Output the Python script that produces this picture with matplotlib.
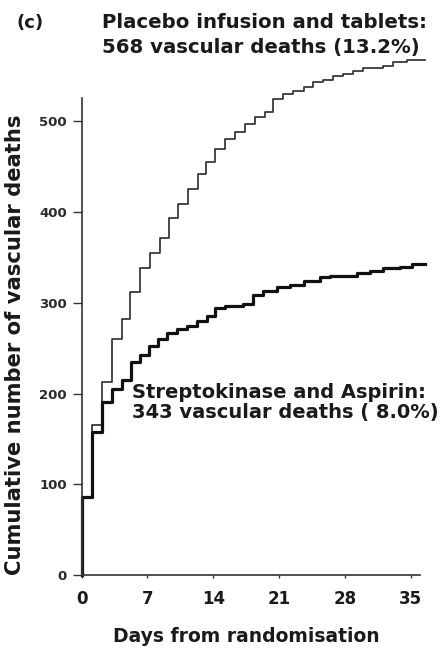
import matplotlib
matplotlib.use("Agg")
import matplotlib.pyplot as plt

# Data (days from randomisation, cumulative vascular deaths)
placebo_days = [0, 0, 1.1, 2.15, 3.2, 4.3, 5.1, 6.2, 7.3, 8.3, 9.3, 10.2, 11.3, 12.4,
                13.2, 14.2, 15.3, 16.3, 17.4, 18.4, 19.5, 20.4, 21.4, 22.5, 23.6,
                24.6, 25.7, 26.7, 27.8, 28.9, 29.9, 32.1, 33.1, 34.6, 36.5]
placebo_deaths = [0, 86, 165, 213, 260, 282, 312, 338, 355, 371, 394, 409, 425, 442,
                  455, 470, 481, 488, 497, 505, 510, 525, 530, 534, 538,
                  543, 546, 550, 552, 556, 559, 561, 566, 568, 568]

strepto_days = [0, 0, 1.1, 2.15, 3.2, 4.3, 5.25, 6.2, 7.15, 8.1, 9.1, 10.1, 11.2,
                12.3, 13.3, 14.2, 15.3, 17.2, 18.2, 19.3, 20.8, 22.2, 23.6, 25.4,
                26.4, 29.3, 30.7, 32.1, 33.9, 35.1, 36.5]
strepto_deaths = [0, 86, 158, 191, 205, 215, 235, 243, 252, 260, 267, 271, 275,
                  280, 285, 294, 296, 299, 309, 313, 317, 320, 324, 328,
                  330, 333, 335, 338, 340, 343, 343]

x_ticks = [0, 7, 14, 21, 28, 35]
y_ticks = [0, 100, 200, 300, 400, 500]

plt.rcParams['font.family'] = ['DejaVu Sans']
plt.rcParams['font.weight'] = 'bold'

fig = plt.figure(figsize=(4.46, 6.52), dpi=100)
ax = fig.add_axes([0.183, 0.118, 0.759, 0.732])

ax.step(placebo_days, placebo_deaths, where='post', color='#2a2a2a', lw=1.2,
        clip_on=False)
ax.step(strepto_days, strepto_deaths, where='post', color='#111111', lw=2.3,
        clip_on=False)

ax.set_xlim(0, 36)
ax.set_ylim(0, 526)
ax.set_xticks(x_ticks)
ax.set_yticks(y_ticks)
for s in ['top', 'right']:
    ax.spines[s].set_visible(False)
for s in ['left', 'bottom']:
    ax.spines[s].set_color('#333333')
    ax.spines[s].set_linewidth(1.2)
ax.tick_params(axis='y', direction='out', length=6.5, width=1.0, pad=4,
               labelsize=9.5, colors='#333333', labelcolor='#2a2a2a')
ax.tick_params(axis='x', direction='out', length=2.5, width=1.0, pad=8,
               labelsize=12, colors='#333333', labelcolor='#1a1a1a')
for lab in ax.get_xticklabels() + ax.get_yticklabels():
    lab.set_fontweight('bold')

fig.text(0.034, 0.471, 'Cumulative number of vascular deaths', rotation=90,
         ha='center', va='center', fontsize=15.2, fontweight='bold', color='#1a1a1a')
fig.text(0.552, 0.0153, 'Days from randomisation', ha='center', va='baseline',
         fontsize=13.5, fontweight='bold', color='#1a1a1a')

fig.text(0.038, 0.957, '(c)', ha='left', va='baseline', fontsize=13,
         fontweight='bold', color='#1a1a1a')
fig.text(0.2287, 0.957, 'Placebo infusion and tablets:', ha='left', va='baseline',
         fontsize=14.2, fontweight='bold', color='#1a1a1a')
fig.text(0.2287, 0.9187, '568 vascular deaths (13.2%)', ha='left', va='baseline',
         fontsize=14.2, fontweight='bold', color='#1a1a1a')

fig.text(0.296, 0.3896, 'Streptokinase and Aspirin:', ha='left', va='baseline',
         fontsize=14, fontweight='bold', color='#1a1a1a')
fig.text(0.296, 0.3589, '343 vascular deaths ( 8.0%)', ha='left', va='baseline',
         fontsize=14, fontweight='bold', color='#1a1a1a')

fig.savefig('out.png', dpi=100)
